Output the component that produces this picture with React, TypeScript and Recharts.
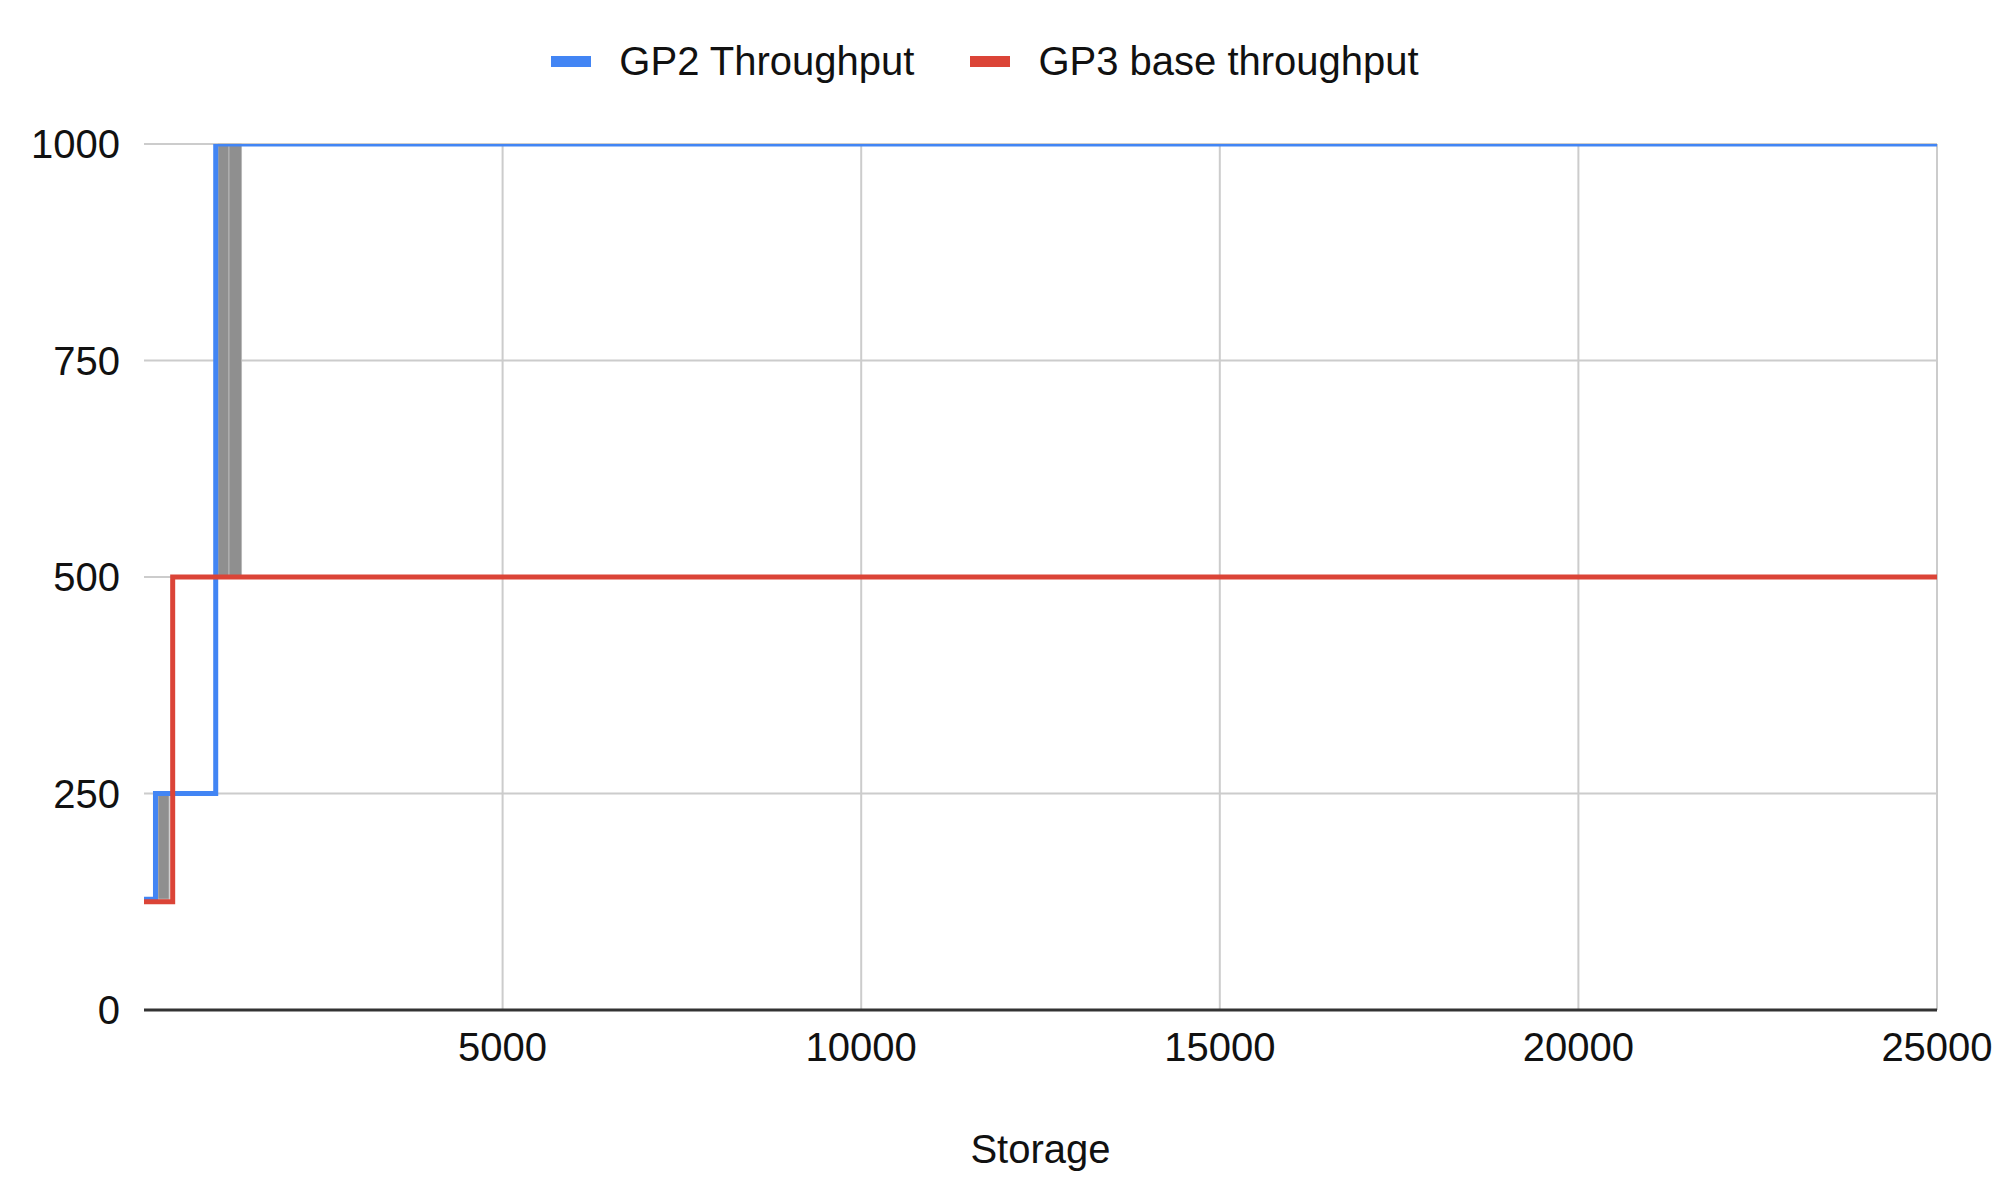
import React from 'react';
import {
  LineChart,
  Line,
  XAxis,
  YAxis,
  CartesianGrid,
  Legend,
  ReferenceArea,
} from 'recharts';

// storage (GiB) where each step starts, and the throughput from there on
const gp2Storage = [0, 160, 1000, 25000];
const gp2Throughput = [128, 250, 1000, 1000];
const gp3Storage = [0, 400, 25000];
const gp3Throughput = [125, 500, 500];

// grey blocks left behind in the original sheet chart
const bandStart = [195, 1030, 1185];
const bandEnd = [350, 1185, 1360];
const bandLow = [128, 500, 500];
const bandHigh = [250, 1000, 1000];

const xTicks = [5000, 10000, 15000, 20000, 25000];
const yTicks = [0, 250, 500, 750, 1000];

const seriesNames = ['GP2 Throughput', 'GP3 base throughput'];
const seriesColors = ['#4285f4', '#db4437'];

const gp2Data = gp2Storage.map((s, i) => ({ storage: s, value: gp2Throughput[i] }));
const gp3Data = gp3Storage.map((s, i) => ({ storage: s, value: gp3Throughput[i] }));

const FONT = "Arial, 'Liberation Sans', Helvetica, sans-serif";
const TEXT = '#111';

function ChartLegend() {
  return (
    <div
      style={{
        display: 'flex',
        justifyContent: 'center',
        alignItems: 'center',
        height: 60,
        fontFamily: FONT,
        fontSize: 40,
        color: TEXT,
      }}
    >
      {seriesNames.map((name, i) => (
        <div key={name} style={{ display: 'flex', alignItems: 'center', marginLeft: i ? 56 : 0 }}>
          <span style={{ width: 40, height: 11, background: seriesColors[i], marginRight: 28 }} />
          <span>{name}</span>
        </div>
      ))}
    </div>
  );
}

export default function App() {
  return (
    <div style={{ position: 'absolute', left: 0, top: 0, width: 2000, height: 1201, background: '#fff' }}>
      <LineChart width={2000} height={1201} margin={{ top: 84, right: 63, left: 0, bottom: 0 }}>
        <CartesianGrid stroke="#cccccc" strokeWidth={2} verticalValues={xTicks} horizontalValues={yTicks} />
        <XAxis
          dataKey="storage"
          type="number"
          domain={[0, 25000]}
          ticks={xTicks}
          interval={0}
          height={191}
          tickLine={false}
          tickMargin={17}
          axisLine={{ stroke: '#333', strokeWidth: 3 }}
          tick={{ fill: TEXT, fontSize: 40, fontFamily: FONT }}
          label={{ value: 'Storage', position: 'insideBottom', offset: 38, fill: TEXT, fontSize: 40, fontFamily: FONT }}
        />
        <YAxis
          type="number"
          domain={[0, 1000]}
          ticks={yTicks}
          width={144}
          allowDataOverflow
          axisLine={false}
          tickLine={false}
          tickMargin={18}
          tick={{ fill: TEXT, fontSize: 40, fontFamily: FONT }}
        />
        <Legend
          verticalAlign="top"
          content={() => <ChartLegend />}
          wrapperStyle={{ top: 31, left: 0, width: 1970, height: 60 }}
        />
        {bandStart.map((x1, i) => (
          <ReferenceArea
            key={i}
            x1={x1}
            x2={bandEnd[i]}
            y1={bandLow[i]}
            y2={bandHigh[i]}
            fill="#8f8f8f"
            fillOpacity={1}
            stroke="#b8b8b8"
            strokeWidth={1}
          />
        ))}
        <Line
          data={gp2Data}
          dataKey="value"
          name={seriesNames[0]}
          type="stepAfter"
          stroke={seriesColors[0]}
          strokeWidth={5}
          dot={false}
          activeDot={false}
          isAnimationActive={false}
        />
        <Line
          data={gp3Data}
          dataKey="value"
          name={seriesNames[1]}
          type="stepAfter"
          stroke={seriesColors[1]}
          strokeWidth={5}
          dot={false}
          activeDot={false}
          isAnimationActive={false}
        />
      </LineChart>
    </div>
  );
}
